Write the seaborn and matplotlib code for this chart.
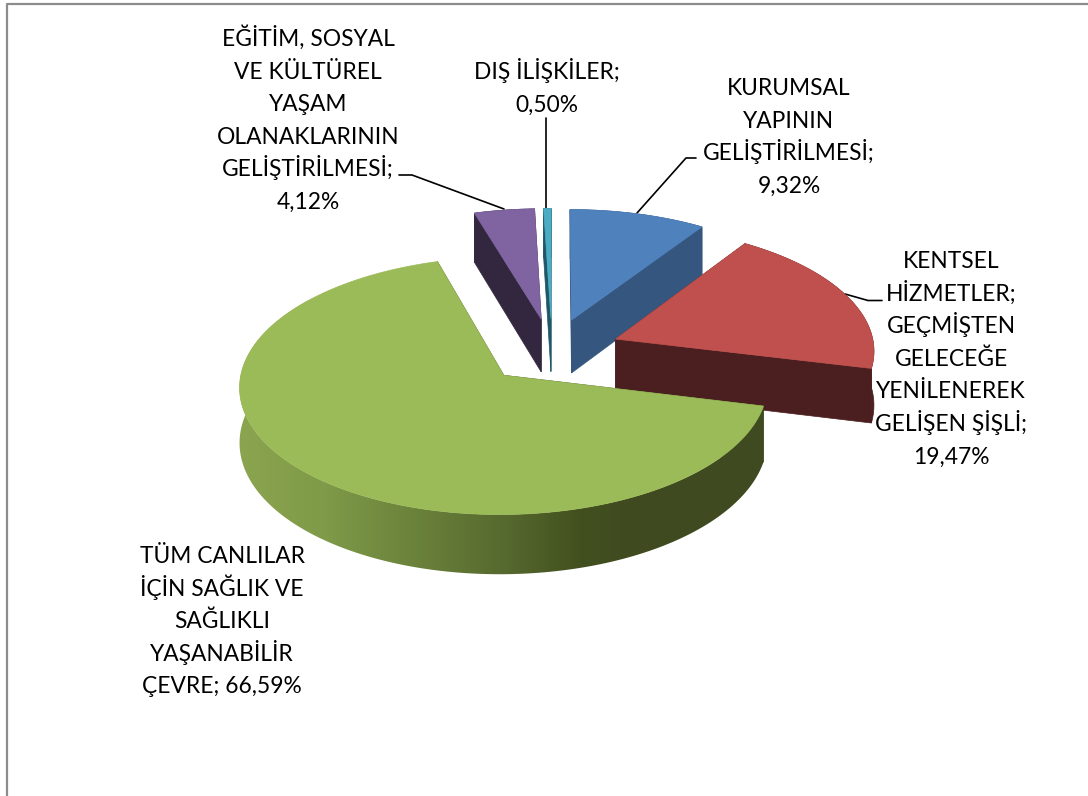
import numpy as np
import matplotlib
matplotlib.use('Agg')
import matplotlib.pyplot as plt
from matplotlib.patches import Polygon
import seaborn as sns

labels = [
    ['KURUMSAL', 'YAPININ', 'GELİŞTİRİLMESİ;', '9,32%'],
    ['KENTSEL', 'HİZMETLER;', 'GEÇMİŞTEN', 'GELECEĞE', 'YENİLENEREK', 'GELİŞEN ŞİŞLİ;', '19,47%'],
    ['TÜM CANLILAR', 'İÇİN SAĞLIK VE', 'SAĞLIKLI', 'YAŞANABİLİR', 'ÇEVRE; 66,59%'],
    ['EĞİTİM, SOSYAL', 'VE KÜLTÜREL', 'YAŞAM', 'OLANAKLARININ', 'GELİŞTİRİLMESİ;', '4,12%'],
    ['DIŞ İLİŞKİLER;', '0,50%'],
]
values = [9.32, 19.47, 66.59, 4.12, 0.50]

# office colours, top faces and side walls
top_colors = sns.color_palette(['#4f81bd', '#c0504d', '#9bbb59', '#8064a2', '#4bacc6'])
wall_colors = sns.color_palette(['#34567f', '#4b1e1f', '#3f4a20', '#33273f', '#1f5766'])

# gradient on the green outer wall, by screen x
grad_x = [240, 325, 435, 505, 580, 640]
grad_c = np.array(sns.color_palette(['#8ba44f', '#7f9a48', '#667c38', '#56692e', '#42501f', '#3f4a20']))

# fake 3d pie: perspective camera fitted by eye
CX, CY = 552, 351
RX, RY = 259, 124
PERSP = 0.08
DEPTH = 54
EXPLODE = 0.266


def project(x, z):
    s = 1 / (1 + PERSP * z)
    return CX + RX * x * s, CY - RY * z * s, DEPTH * s


def slice_points(a0, a1, n=200):
    mid = np.radians((a0 + a1) / 2)
    ex, ez = EXPLODE * np.sin(mid), EXPLODE * np.cos(mid)
    th = np.radians(np.linspace(a0, a1, n))
    apex = project(ex, ez)
    arc = project(ex + np.sin(th), ez + np.cos(th))
    return apex, arc


sns.set_theme(style='white')
plt.rcParams['font.family'] = ['Lato', 'DejaVu Sans']

fig = plt.figure(figsize=(10.88, 7.96), dpi=100)
ax = fig.add_axes([0, 0, 1, 1])
ax.axis('off')

# chart frame, no right side in the crop
ax.plot([6.5, 6.5, 1088], [796, 3.5, 3.5], color='#8c8c8c', lw=1.6, zorder=1)

edges = np.cumsum([0] + values) / sum(values) * 360
order = [3, 4, 0, 1, 2]  # back slices first, green last
for i in order:
    (px, py, pd), (xs, ys, ds) = slice_points(edges[i], edges[i + 1])
    z = 2 + order.index(i)
    wall = wall_colors[i]
    # radial walls
    for k in [0, -1]:
        ax.fill([px, xs[k], xs[k], px], [py, ys[k], ys[k] + ds[k], py + pd],
                color=wall, lw=0.5, zorder=z)
    # outer wall
    wx = np.r_[xs, xs[::-1]]
    wy = np.r_[ys, (ys + ds)[::-1]]
    if i == 2:
        gx = np.arange(230, 780)
        img = np.stack([np.interp(gx, grad_x, grad_c[:, j]) for j in range(3)], axis=-1)[None, :, :]
        im = ax.imshow(img, extent=(230, 780, 600, 300), aspect='auto', zorder=z)
        im.set_clip_path(Polygon(np.c_[wx, wy], closed=True, transform=ax.transData))
    else:
        ax.fill(wx, wy, color=wall, lw=0.5, zorder=z)
    # top face
    ax.fill(np.r_[px, xs], np.r_[py, ys], color=top_colors[i], lw=0.5, zorder=z + 0.5)

ax.set_xlim(0, 1088)
ax.set_ylim(796, 0)

# leader lines
leaders = [
    ([696, 686, 637], [158, 158, 213]),
    ([882, 868, 845], [300.5, 300.5, 294]),
    ([399, 412, 504], [175, 175, 209]),
    ([546, 546], [118, 208]),
]
for lx, ly in leaders:
    ax.plot(lx, ly, color='black', lw=1.2, zorder=1.5)

# label centre x and first baseline
label_pos = [(789, 95), (951, 268), (222, 563), (308, 46), (547, 79)]
LINE_H = 32.6
for lines, (x, y) in zip(labels, label_pos):
    for k, line in enumerate(lines):
        ax.text(x, y + k * LINE_H, line, ha='center', va='baseline', fontsize=16.4,
                color='black', zorder=10)

fig.savefig('out.png', dpi=100)
